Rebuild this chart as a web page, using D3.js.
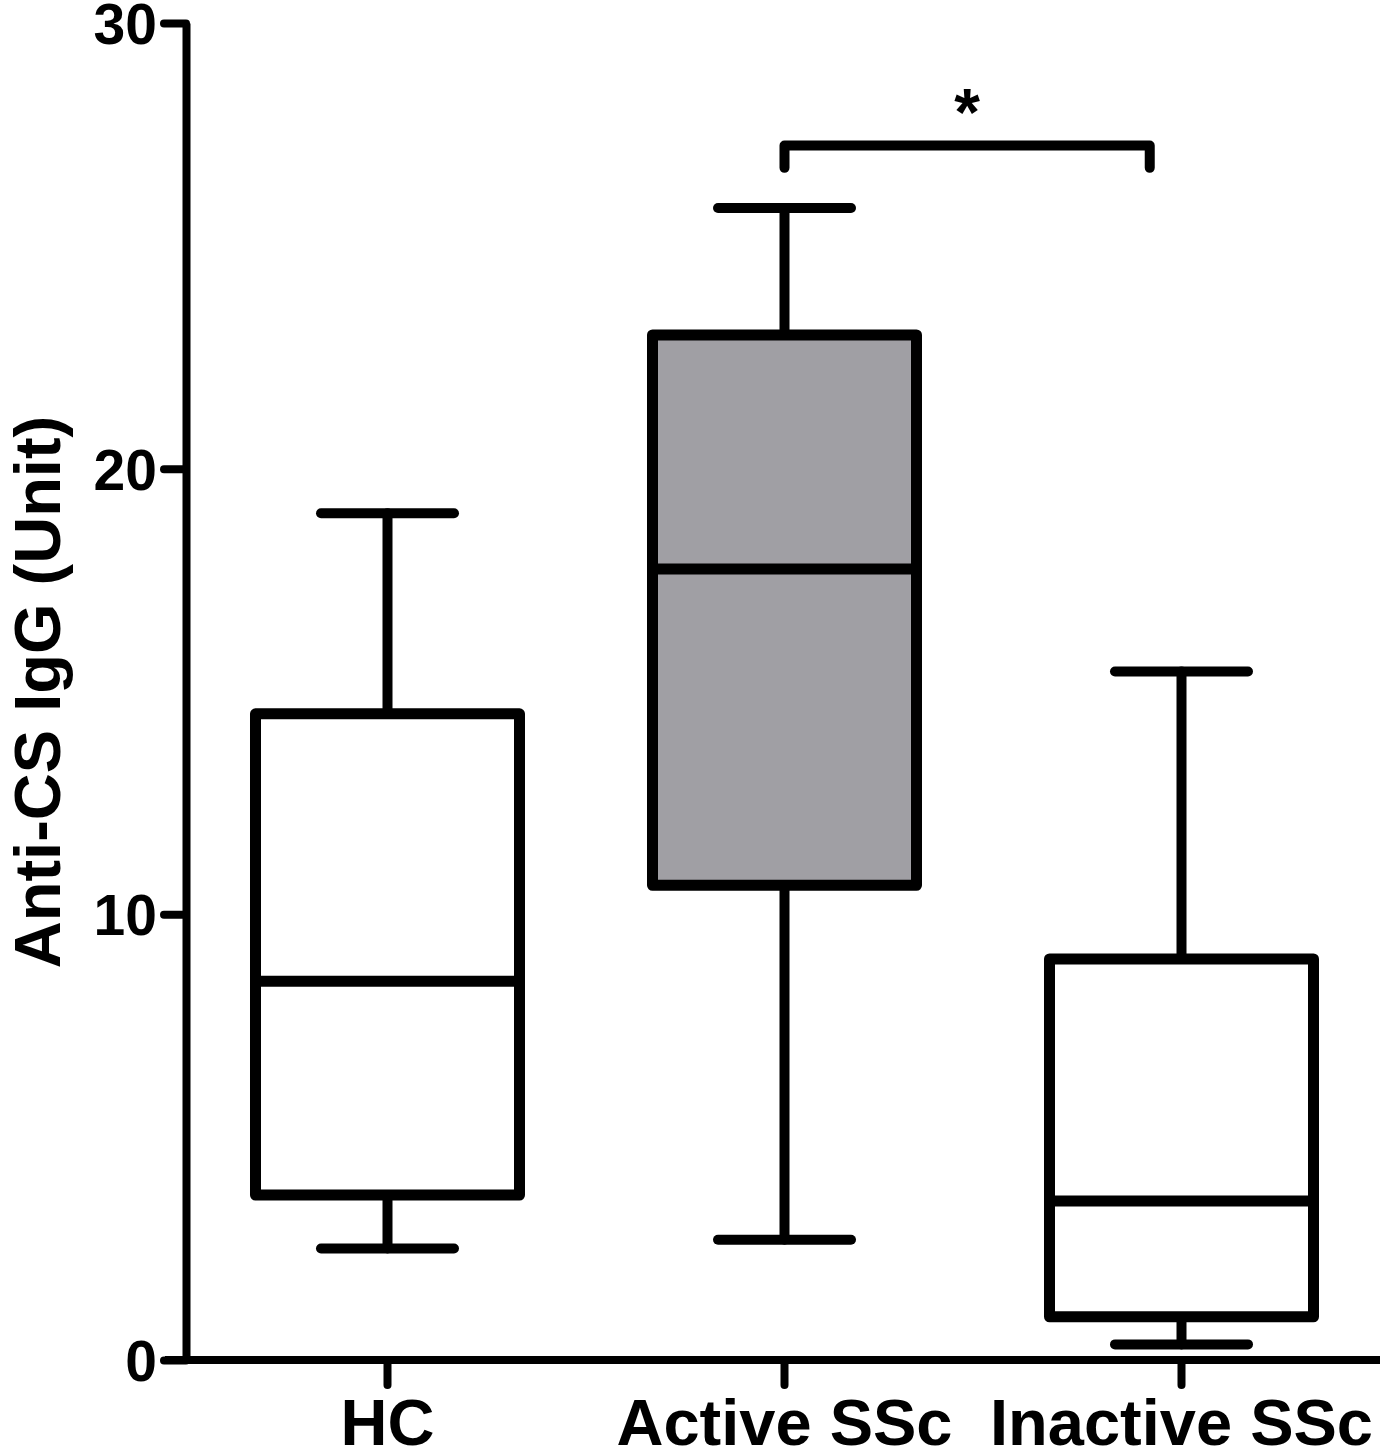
<!DOCTYPE html>
<html>
<head>
<meta charset="utf-8">
<script src="https://cdn.jsdelivr.net/npm/d3@7"></script>
<style>
  body { margin: 0; background: #fff; }
  text { font-family: "Liberation Sans", Arial, sans-serif; font-weight: bold; fill: #000; }
</style>
</head>
<body>
<div id="chart"></div>
<script>
// groups and box statistics
var groups = ['HC', 'Active SSc', 'Inactive SSc'];
var whiskerLow = [2.5, 2.7, 0.35];
var q1 = [3.7, 10.65, 0.97];
var median = [8.5, 17.75, 3.57];
var q3 = [14.5, 23.0, 9.0];
var whiskerHigh = [19.0, 25.85, 15.45];
var boxFill = ['#ffffff', '#a09fa4', '#ffffff'];

var yTicks = [0, 10, 20, 30];
var yTitle = 'Anti-CS IgG (Unit)';

// significance bracket between Active and Inactive
var sigFrom = 'Active SSc',
    sigTo = 'Inactive SSc',
    sigY = 27.25,
    sigDrop = 0.5,
    sigLabel = '*';

var width = 1382,
    height = 1449;

var svg = d3.select('#chart')
    .append('svg')
        .attr('width', width)
        .attr('height', height);

var x = d3.scaleBand()
    .domain(groups)
    .range([189, 1380])
    .padding(0);

var y = d3.scaleLinear()
    .domain([0, 30])
    .range([1360, 23]);

var bw = x.bandwidth(),
    boxW = bw * 0.665,
    capW = bw * 0.335;

function cx(g) { return x(g) + bw / 2; }

var data = groups.map(function (g, i) {
    return {
        group: g,
        lo: whiskerLow[i], q1: q1[i], med: median[i], q3: q3[i], hi: whiskerHigh[i],
        fill: boxFill[i]
    };
});

// y axis
var yAxis = svg.append('g')
    .attr('transform', 'translate(186,0)')
    .call(d3.axisLeft(y).tickValues(yTicks).tickSize(22).tickPadding(7).tickSizeOuter(0));
yAxis.select('.domain').attr('stroke', '#000').attr('stroke-width', 8);
yAxis.selectAll('.tick line').attr('stroke', '#000').attr('stroke-width', 8).attr('stroke-linecap', 'round');
yAxis.selectAll('.tick text')
    .style('font-size', '57px')
    .attr('dy', '0.36em');

// x axis
var xAxis = svg.append('g')
    .attr('transform', 'translate(0,1360)')
    .call(d3.axisBottom(x).tickSize(25).tickPadding(14).tickSizeOuter(0));
xAxis.select('.domain').attr('stroke', '#000').attr('stroke-width', 8)
    .attr('d', 'M165,0H1380');
xAxis.selectAll('.tick line').attr('stroke', '#000').attr('stroke-width', 8).attr('stroke-linecap', 'round');
xAxis.selectAll('.tick text')
    .style('font-size', '65px')
    .attr('dy', '0.71em');

// y title
svg.append('text')
    .attr('transform', 'translate(60,692) rotate(-90)')
    .attr('text-anchor', 'middle')
    .style('font-size', '65px')
    .text(yTitle);

// boxes
var box = svg.append('g').selectAll('g')
    .data(data)
    .enter()
    .append('g');

box.append('line')  // upper whisker
    .attr('x1', function (d) { return cx(d.group); })
    .attr('x2', function (d) { return cx(d.group); })
    .attr('y1', function (d) { return y(d.q3); })
    .attr('y2', function (d) { return y(d.hi); });

box.append('line')  // lower whisker
    .attr('x1', function (d) { return cx(d.group); })
    .attr('x2', function (d) { return cx(d.group); })
    .attr('y1', function (d) { return y(d.q1); })
    .attr('y2', function (d) { return y(d.lo); });

box.append('line')  // top cap
    .attr('class', 'cap')
    .attr('x1', function (d) { return cx(d.group) - capW / 2; })
    .attr('x2', function (d) { return cx(d.group) + capW / 2; })
    .attr('y1', function (d) { return y(d.hi); })
    .attr('y2', function (d) { return y(d.hi); });

box.append('line')  // bottom cap
    .attr('class', 'cap')
    .attr('x1', function (d) { return cx(d.group) - capW / 2; })
    .attr('x2', function (d) { return cx(d.group) + capW / 2; })
    .attr('y1', function (d) { return y(d.lo); })
    .attr('y2', function (d) { return y(d.lo); });

box.selectAll('line')
    .attr('stroke', '#000')
    .attr('stroke-width', 10)
    .attr('stroke-linecap', 'round');

box.append('rect')
    .attr('x', function (d) { return cx(d.group) - boxW / 2; })
    .attr('y', function (d) { return y(d.q3); })
    .attr('width', boxW)
    .attr('height', function (d) { return y(d.q1) - y(d.q3); })
    .attr('fill', function (d) { return d.fill; })
    .attr('stroke', '#000')
    .attr('stroke-width', 11)
    .attr('stroke-linejoin', 'round');

box.append('line')  // median
    .attr('x1', function (d) { return cx(d.group) - boxW / 2; })
    .attr('x2', function (d) { return cx(d.group) + boxW / 2; })
    .attr('y1', function (d) { return y(d.med); })
    .attr('y2', function (d) { return y(d.med); })
    .attr('stroke', '#000')
    .attr('stroke-width', 11);

// significance bracket
var bx1 = cx(sigFrom),
    bx2 = cx(sigTo) - bw * 0.08;
svg.append('path')
    .attr('d', d3.line()([
        [bx1, y(sigY - sigDrop)],
        [bx1, y(sigY)],
        [bx2, y(sigY)],
        [bx2, y(sigY - sigDrop)]
    ]))
    .attr('fill', 'none')
    .attr('stroke', '#000')
    .attr('stroke-width', 10)
    .attr('stroke-linecap', 'round')
    .attr('stroke-linejoin', 'round');

svg.append('text')
    .attr('x', (bx1 + bx2) / 2)
    .attr('y', y(sigY) - 11)
    .attr('text-anchor', 'middle')
    .style('font-size', '66px')
    .text(sigLabel);
</script>
</body>
</html>
